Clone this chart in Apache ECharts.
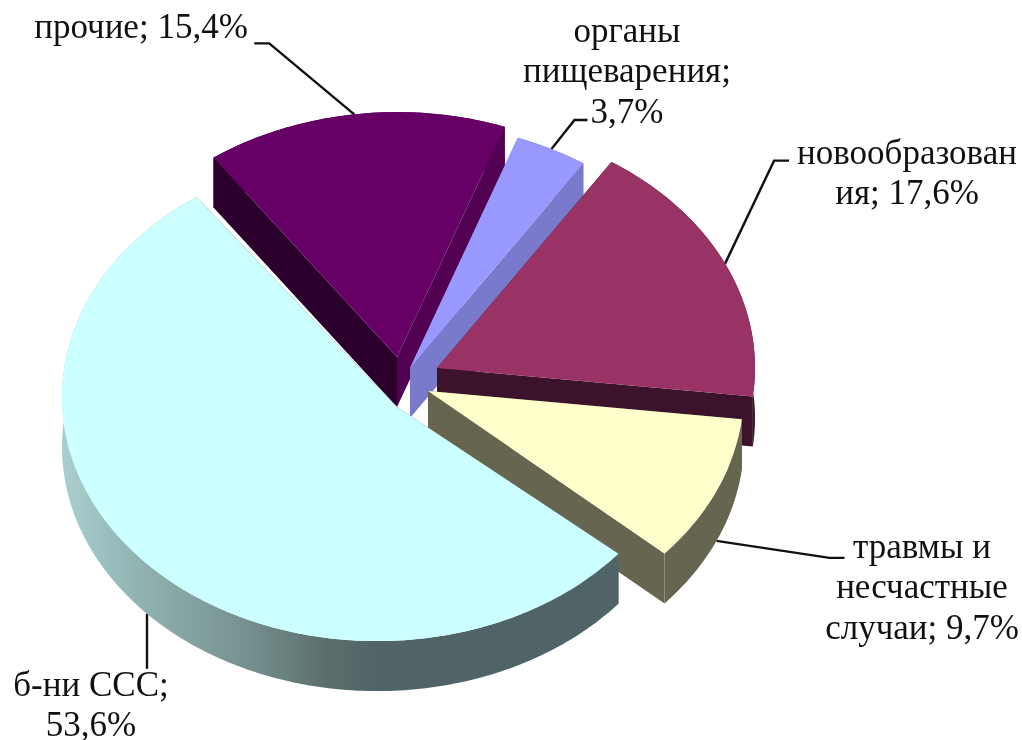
<!DOCTYPE html>
<html>
<head>
<meta charset="utf-8">
<style>
  html, body { margin: 0; padding: 0; background: #fff; }
  #chart { width: 1022px; height: 740px; }
</style>
<script src="https://cdn.jsdelivr.net/npm/echarts@6/dist/echarts.min.js"></script>
</head>
<body>
<div id="chart"></div>
<script>
// Exploded 3D-look pie, drawn with a custom series (draw order = back to front)
const categories = ['прочие', 'органы пищеварения', 'новообразования', 'травмы и несчастные случаи', 'б-ни ССС'];
const values = [15.4, 3.7, 17.6, 9.7, 53.6];
const labelLines = [
    ['прочие; 15,4%'],
    ['органы', 'пищеварения;', '3,7%'],
    ['новообразован', 'ия; 17,6%'],
    ['травмы и', 'несчастные', 'случаи; 9,7%'],
    ['б-ни ССС;', '53,6%']
];

const topColors = ['#660066', '#9999ff', '#993366', '#ffffcc', '#ccffff'];
const startWallColors = ['#2c002c', '#7a7acc', '#3d132b', '#666650', '#506468'];
const endWallColors = ['#520052', '#7a7acc', '#3d132b', '#666650', '#506468'];
const rimWallColors = ['#520052', '#7a7acc', '#3d132b', '#666650', '#506468'];
const apexes = [[397, 357], [410, 368], [437, 368], [428, 391], [397, 407]];
const rimOffsets = [[0, 0], [0, 0], [0, 0], [0, 0], [-20, -10]];
const radii = [316, 316, 318, 316, 315];
const angleShifts = [0, 0, 0, 0, -1];
const labelCentres = [[141, 29], [627, 73], [907, 175], [922, 589], [91, 707]];
// leader: offsets from the rim point near the middle of the slice, last one is the tail
const leaderBends = [[[-85, -71], [-100, -71]], [[23, -29], [36, -29]], [[49, -103], [64, -103]], [[113, 17], [128, 17]], [[0, 55]]];
const leaderOnWall = [false, false, false, true, true];
const leaderAngleShifts = [0, 0, 0, 0, 4];

const START_ANGLE = 234.5;
const TILT = 0.775;
const DEPTH = 50;
const FONT = '"Liberation Serif", "Times New Roman", serif';

const deg = Math.PI / 180;
const startAngles = values.map((_, i) =>
    START_ANGLE + angleShifts[i] + values.slice(0, i).reduce((a, b) => a + b, 0) / 100 * 360);

// point on the slice rim at a given angle (degrees, clockwise on screen)
function rimPoint(i, angle) {
    const c = Math.cos(angle * deg), s = Math.sin(angle * deg);
    const ox = rimOffsets[i][0], oy = rimOffsets[i][1] / TILT;
    const dot = c * ox + s * oy;
    const t = dot + Math.sqrt(dot * dot - ox * ox - oy * oy + radii[i] * radii[i]);
    return [apexes[i][0] + t * c, apexes[i][1] + t * s * TILT];
}

function down(p) {
    return [p[0], p[1] + DEPTH];
}

function renderSlice(params, api) {
    const i = params.dataIndex;
    const from = startAngles[i];
    const to = from + api.value(0) / 100 * 360;
    const apex = apexes[i];

    const rim = [];
    for (let a = from; a < to; a += 1) rim.push(rimPoint(i, a));
    rim.push(rimPoint(i, to));
    const first = rim[0], last = rim[rim.length - 1];

    let rimFill = rimWallColors[i];
    if (i === values.length - 1) {
        rimFill = new echarts.graphic.LinearGradient(0, 0, 1, 0, [
            { offset: 0, color: '#a8cfcf' },
            { offset: 0.15, color: '#8fb1b0' },
            { offset: 0.34, color: '#748f8e' },
            { offset: 0.48, color: '#5a6e6b' },
            { offset: 0.57, color: '#506468' },
            { offset: 1, color: '#506468' }
        ]);
    }

    const mid = rimPoint(i, (from + to) / 2 + leaderAngleShifts[i]);
    const anchor = leaderOnWall[i] ? down(mid) : mid;
    const leader = [anchor].concat(leaderBends[i].map(b => [anchor[0] + b[0], anchor[1] + b[1]]));

    const centre = labelCentres[i];
    return {
        type: 'group',
        children: [
            { type: 'polyline', shape: { points: leader },
              style: { stroke: '#111', lineWidth: 2.4, fill: null } },
            { type: 'polygon', shape: { points: rim.concat(rim.map(down).reverse()) },
              style: { fill: rimFill } },
            { type: 'polygon', shape: { points: [apex, first, down(first), down(apex)] },
              style: { fill: startWallColors[i] } },
            { type: 'polygon', shape: { points: [apex, last, down(last), down(apex)] },
              style: { fill: endWallColors[i] } },
            { type: 'polygon', shape: { points: [apex].concat(rim) },
              style: { fill: topColors[i] } },
            { type: 'text',
              style: {
                  x: centre[0], y: centre[1],
                  text: labelLines[i].join('\n'),
                  font: '35px ' + FONT,
                  lineHeight: 40.5,
                  fill: '#111',
                  align: 'center',
                  verticalAlign: 'middle'
              } }
        ]
    };
}

const chart = echarts.init(document.getElementById('chart'), null, { renderer: 'canvas' });
chart.setOption({
    animation: false,
    backgroundColor: '#fff',
    series: [{
        type: 'custom',
        coordinateSystem: 'none',
        silent: true,
        renderItem: renderSlice,
        data: values.map((v, i) => ({ name: categories[i], value: [v] }))
    }]
});
</script>
</body>
</html>
